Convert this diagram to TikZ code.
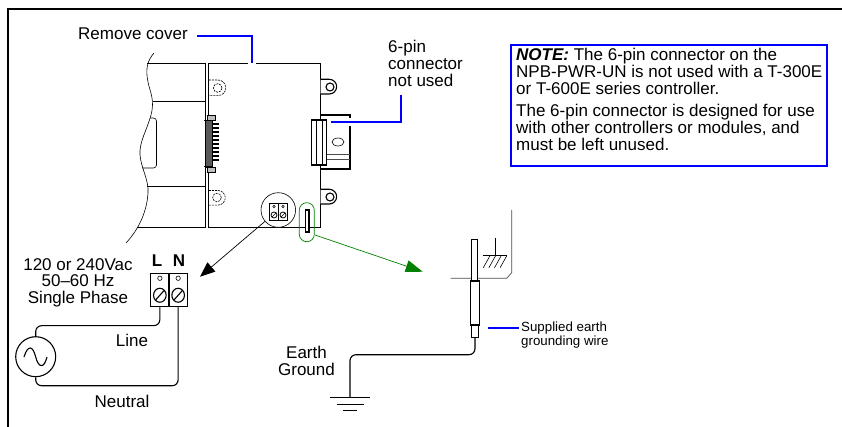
\documentclass[tikz,border=0pt]{standalone}
\usepackage{fontspec}
\setmainfont{Liberation Sans}
\usetikzlibrary{arrows.meta,calc}
\definecolor{notegreen}{RGB}{0,128,0}
\tikzset{
     label/.style = { font=\fontsize{17}{17}\selectfont, align=center, inner sep=0pt },
      tiny/.style = { font=\fontsize{13.3}{14}\selectfont, align=left, inner sep=0pt },
     frame/.style = { line width=2pt, color=black },
      part/.style = { line width=1.1pt, color=black },
      thin/.style = { line width=0.6pt, color=black },
    hidden/.style = { line width=0.6pt, dash pattern=on 2pt off 1pt },
    leader/.style = { line width=2pt, color=blue },
      wire/.style = { line width=1.1pt, rounded corners=6pt },
     arrow/.style = { line width=0.7pt, -{Triangle[length=15pt,width=12pt]} },
  terminal/.style = { draw, line width=1.1pt, minimum width=18.6pt, minimum height=33pt, inner sep=0pt },
}
\begin{document}
\begin{tikzpicture}[x=1pt,y=-1pt]
  \useasboundingbox (0,0) rectangle (842,427);
  % page frame
  \draw [frame] (8,427) -- (8,9.3) -- (842,9.3);
  % texts
  \node [label,anchor=base west] (cover) at (78,40) {Remove cover};
  \node [label,anchor=north west,align=left] (sixpin) at (388,39.5) {6-pin\\connector\\not used};
  \node [label,anchor=base] (volts) at (78,270) {120 or 240Vac};
  \node [label,anchor=base] (hertz) at (78,287) {50--60 Hz};
  \node [label,anchor=base] (phase) at (78,303.5) {Single Phase};
  \node [label,anchor=base] (line) at (132,346) {Line};
  \node [label,anchor=base] (neutral) at (122,407) {Neutral};
  \node [label,anchor=base] (earth) at (306.5,358) {Earth};
  \node [label,anchor=base] (ground) at (306.5,375) {Ground};
  \node [label,anchor=base,font=\fontsize{17}{17}\selectfont\bfseries] (lname) at (157,266) {L};
  \node [label,anchor=base,font=\fontsize{17}{17}\selectfont\bfseries] (nname) at (179,266) {N};
  \node [tiny,anchor=north west] (supplied) at (521,321.5) {Supplied earth\\grounding wire};
  % note box
  \node [draw=blue,line width=2pt,fill=white,anchor=north west,minimum width=316pt,minimum height=121pt,
    inner sep=0pt] (note) at (510,44) {};
  \node [anchor=north west,inner sep=0pt,align=left,font=\fontsize{17}{17}\selectfont] (notetext) at (516,47.5)
    {\textbf{\textit{NOTE:}} The 6-pin connector on the\\
     NPB-PWR-UN is not used with a T-300E\\
     or T-600E series controller.\\[5pt]
     The 6-pin connector is designed for use\\
     with other controllers or modules, and\\
     must be left unused.};
  % controller body
  \draw [part] (208.7,63.3) rectangle (320.7,227.3);
  \draw [part] (147,63.3) -- (205.3,63.3) -- (205.3,227.3) -- (137,227.3);
  \draw [part] (152.5,101.3) -- (205.3,101.3);
  \draw [part] (147,186.7) -- (205.3,186.7);
  \draw [thin] (154,53) .. controls (148,60) and (145,68) .. (148,82)
    .. controls (150,92) and (155,100) .. (151,115)
    .. controls (147,130) and (139,142) .. (140,155)
    .. controls (141,168) and (149,180) .. (148,193)
    .. controls (147,210) and (140,228) .. (126,243);
  \draw [thin,rounded corners=3pt] (150,118) -- (156.5,118) -- (156.5,168) -- (142,168);
  % mounting holes
  \draw [hidden] (209,80) -- (218,80) arc (-90:90:7.8) -- (209,95.6);
  \draw [hidden] (217.7,88) circle (4.3pt);
  \draw [hidden] (209,190.5) -- (218,190.5) arc (-90:90:7.3) -- (209,205.1);
  \draw [hidden] (217,197.5) circle (4.3pt);
  % edge connector
  \draw [fill=black!65,line width=0.6pt] (205,120) rectangle (212.5,167);
  \draw [thin,fill=black!25] (207.5,115) rectangle (215,120.5);
  \draw [thin,fill=black!25] (207.5,167) rectangle (215,172);
  \draw [part] (204,120.5) -- (213,120.5);
  \draw [part] (204,166.5) -- (213,166.5);
  \foreach \i in {124,128,...,160} {
    \draw [line width=1.1pt] (212.5,\i) -- (219,\i);
  }
  % ears
  \draw [part,fill=white] (320.7,79.3) -- (329.3,79.3) arc (-90:90:7.35) -- (320.7,94);
  \draw [part] (330,87) circle (4pt);
  \draw [part,fill=white] (320.7,189.3) -- (329.3,189.3) arc (-90:90:7.35) -- (320.7,204);
  \draw [part] (330,197) circle (4pt);
  % 6-pin connector
  \draw [part] (320.7,115) -- (350,115) -- (350,118);
  \draw [part] (350,126) -- (350,169) -- (320.7,169);
  \draw [thin,color=black!70,line width=0.9pt] (327,154) -- (350,154);
  \draw [thin,color=black!70,line width=0.9pt] (327,159) -- (350,159);
  \draw [thin] (338,142) ellipse (6pt and 4pt);
  \draw [part,fill=white] (311.7,120) rectangle (326.7,165);
  \draw [thin] (316.7,120) -- (316.7,165);
  \draw [part] (322.5,120) -- (322.5,165);
  % power terminal, small
  \node [draw,circle,line width=0.6pt,fill=white,minimum size=34.6pt,inner sep=0pt] (zoomL) at (278.3,210) {};
  \draw [part,fill=white] (269.3,203.3) rectangle (287.3,220.7);
  \draw [thin] (278.3,203.3) -- (278.3,220.7);
  \foreach \x in {274,283} {
    \draw [thin] (\x,206.5) circle (1.2pt);
    \draw [line width=0.8pt] (\x,215) circle (3pt);
    \draw [thin] (\x-2,217) -- (\x+2,213);
  }
  % earth tab
  \node [draw=notegreen,rounded corners=7.4pt,line width=0.7pt,minimum width=15pt,minimum height=39pt,inner sep=0pt] (zoomG) at (306.8,222.2) {};
  \draw [part,fill=white] (305.7,210) rectangle (309,232);
  % arrows
  \coordinate (arrowL) at (200,276.7);
  \coordinate (tabend) at (315,235);
  \coordinate (arrowG) at (422.7,271.7);
  \draw [arrow] (zoomL) -- (arrowL);
  \draw [arrow,color=notegreen,-{Triangle[length=17pt,width=12pt]}] (tabend) -- (arrowG);
  % terminal block
  \node [terminal,anchor=north west] (termL) at (150,272.7) {};
  \node [terminal,anchor=north west] (termN) at (168.3,272.7) {};
  \foreach \t in {termL,termN} {
    \draw [thin] ($(\t.center)+(0,-11.5)$) circle (2.2pt);
    \draw [part] ($(\t.center)+(0,5.5)$) ellipse (6.3pt and 7pt);
    \draw [part] ($(\t.center)+(-4,10)$) -- ($(\t.center)+(4,1)$);
  }
  % supply
  \node [draw,circle,line width=1.1pt,minimum size=40pt,inner sep=0pt] (supply) at (35.7,356.7) {};
  \draw [part] (24,357) .. controls (28,344) and (33,346) .. (35.7,357) .. controls (38.5,368) and (44,369) .. (47,357);
  \draw [wire] (termL.south) |- ($(supply.north)+(0,-10.5)$) -- (supply.north);
  \draw [wire] (termN.south) |- ($(supply.south)+(0,8.5)$) -- (supply.south);
  % earth stud
  \draw [line width=0.7pt,color=black!70] (511.7,210) -- (511.7,272.7) -- (506.7,278.3) -- (450.7,278.3);
  \draw [part,fill=white] (471.7,239.3) rectangle (477.7,281);
  \node [draw,line width=1.1pt,fill=white,minimum width=9.4pt,minimum height=44pt,inner sep=0pt] (lug) at (475,303) {};
  \node [draw,line width=1.1pt,fill=white,minimum width=7.4pt,minimum height=12.3pt,inner sep=0pt] (crimp) at (475,331.2) {};
  % chassis ground
  \coordinate (chassis) at (495,238.3);
  \draw [thin] (chassis) -- (495,255.7);
  \draw [part] (482.7,255.7) -- (506.7,255.7);
  \foreach \i in {490,495.6,501.2,506.8} {
    \draw [thin] (\i,255.7) -- (\i-6.7,267.7);
  }
  % earth wire and symbol
  \node [inner sep=0pt,minimum width=40pt,minimum height=0pt] (gnd) at (350,397.3) {};
  \draw [wire] (crimp.south) |- (350,354.7) -- (gnd.center);
  \draw [part] (gnd.west) -- (gnd.east);
  \draw [part] (336.7,404.7) -- (364,404.7);
  \draw [part] (342.7,410.7) -- (356.7,410.7);
  % blue leaders
  \coordinate (coverstart) at (197,36);
  \coordinate (coverend) at (252,63);
  \coordinate (pinstart) at (401,95);
  \coordinate (pinend) at (331,122);
  \coordinate (wirestart) at (488,328);
  \coordinate (wireend) at (519,328);
  \draw [white,line width=2pt] (248,63.3) -- (256,63.3);
  \draw [leader] (coverstart) -| (coverend);
  \draw [leader] (pinstart) |- (pinend);
  \draw [leader] (wirestart) -- (wireend);
\end{tikzpicture}
\end{document}
